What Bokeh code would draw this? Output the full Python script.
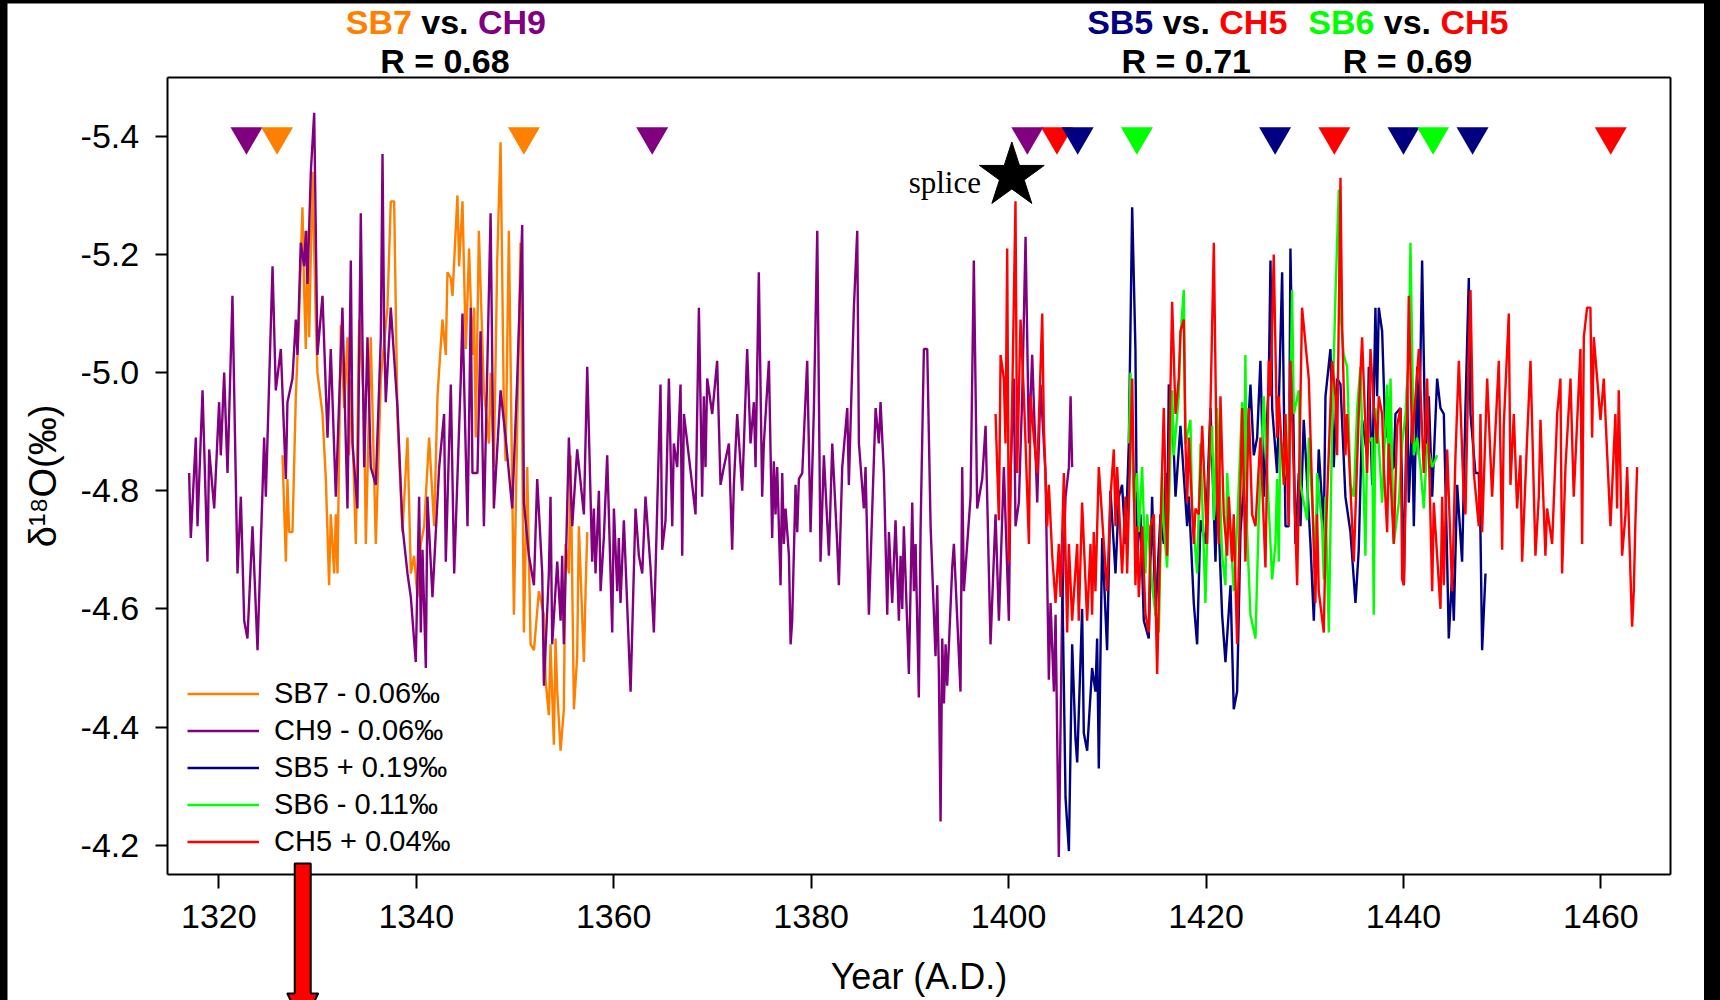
from bokeh.plotting import figure
from bokeh.models import Range1d, FixedTicker, NumeralTickFormatter, LinearAxis
from bokeh.embed import file_html
from bokeh.resources import INLINE
from bokeh.core.properties import value

# ---------------- data ----------------
ch9_year = [
    1316.99, 1317.16, 1317.67, 1317.84, 1318.35, 1318.85, 1319.02, 1319.53, 1320.03, 1320.20,
    1320.54, 1320.88, 1321.38, 1321.89, 1322.23, 1322.57, 1322.90, 1323.41, 1323.92, 1324.59,
    1324.76, 1325.44, 1325.77, 1326.28, 1326.79, 1326.95, 1327.46, 1327.80, 1327.97, 1328.30,
    1328.64, 1328.81, 1328.98, 1329.32, 1329.66, 1329.99, 1330.50, 1331.01, 1331.34, 1331.85,
    1332.52, 1333.03, 1333.37, 1333.54, 1334.04, 1334.38, 1334.72, 1335.06, 1335.39, 1335.90,
    1336.41, 1336.58, 1336.74, 1336.91, 1337.42, 1338.10, 1338.60, 1339.11, 1339.45, 1339.95,
    1340.29, 1340.46, 1340.63, 1340.97, 1341.13, 1341.64, 1342.32, 1342.82, 1342.99, 1343.50,
    1343.84, 1344.51, 1344.68, 1345.19, 1345.52, 1345.69, 1346.20,
    1346.51, 1346.85, 1347.53, 1347.86, 1348.54, 1349.05, 1349.72, 1350.23, 1350.73, 1350.90,
    1351.41, 1351.92, 1352.25, 1352.76, 1352.93, 1353.43, 1353.60, 1353.77, 1354.28, 1354.62,
    1354.78, 1354.95, 1355.46, 1355.80, 1356.30, 1356.98, 1357.32, 1357.82, 1357.99, 1358.16,
    1358.50, 1358.67, 1359.00, 1359.34, 1359.85, 1360.02, 1360.36, 1360.52, 1360.69, 1361.03,
    1361.71, 1362.21, 1362.55, 1362.89, 1363.22, 1363.73, 1364.07, 1364.74, 1364.91, 1365.25,
    1365.59, 1365.93, 1366.09, 1366.43, 1366.77, 1366.94, 1367.11, 1367.95, 1368.29, 1368.63,
    1368.96, 1369.13, 1369.30, 1369.47, 1369.98, 1370.48, 1370.82, 1371.16, 1371.67, 1372.00,
    1372.17, 1372.51, 1373.02, 1373.52, 1373.86, 1374.20, 1374.37, 1374.70, 1375.04, 1375.21,
    1375.72, 1376.05, 1376.22, 1376.39, 1376.56, 1376.90,
    1377.07, 1377.24, 1377.41, 1377.75, 1377.92, 1378.08, 1378.42, 1378.59, 1378.76, 1379.10,
    1379.60, 1379.94, 1380.28, 1380.62, 1380.95, 1381.29, 1381.80, 1382.14, 1382.64, 1382.81,
    1383.15, 1383.66, 1383.82, 1383.99, 1384.33, 1384.67, 1384.84, 1385.34, 1385.51, 1385.85,
    1386.19, 1386.53, 1386.86, 1387.03, 1387.37, 1387.71, 1387.88, 1388.21, 1388.55, 1388.89,
    1389.06, 1389.23, 1389.39, 1389.90, 1390.24, 1390.41, 1390.58, 1390.91, 1391.08, 1391.42,
    1391.76, 1392.10, 1392.60, 1392.77, 1392.94, 1393.11, 1393.28, 1393.45, 1393.62, 1393.78,
    1394.29, 1394.46, 1395.13, 1395.30, 1395.47, 1395.81, 1396.15, 1396.48, 1396.82, 1397.33,
    1397.67, 1398.17, 1398.68, 1399.02, 1399.52, 1400.03, 1400.20, 1400.54, 1400.70, 1401.04,
    1401.38, 1401.72, 1402.06, 1402.39, 1402.90, 1403.24, 1403.74, 1404.08, 1404.25, 1404.59,
    1404.76, 1405.09, 1405.43, 1405.77, 1406.11, 1406.28, 1406.44,
]
ch9_d18o = [
    -4.83, -4.72, -4.89, -4.74, -4.97, -4.68, -4.87, -4.77, -4.95, -4.86,
    -5.00, -4.83, -5.13, -4.66, -4.79, -4.58, -4.55, -4.74, -4.53, -4.89,
    -4.79, -5.18, -4.97, -5.04, -4.82, -4.95, -4.99, -5.09, -5.03, -5.22,
    -5.18, -5.24, -5.15, -5.34, -5.44, -5.03, -5.13, -4.89, -5.04, -4.79,
    -5.11, -4.77, -5.19, -4.88, -4.77, -5.27, -4.84, -5.06, -4.84, -4.81,
    -5.06, -5.37, -5.08, -4.95, -5.11, -4.94, -4.74, -4.66, -4.62, -4.51,
    -4.79, -4.56, -4.70, -4.50, -4.79, -4.62, -4.84, -4.93, -4.68, -4.98,
    -4.66, -4.99, -5.10, -4.74, -5.11, -4.83, -4.83,
    -5.07, -4.74, -5.27, -4.77, -4.97, -4.89, -4.77, -4.99, -5.25, -4.78,
    -4.69, -4.64, -4.82, -4.66, -4.47, -4.66, -4.79, -4.54, -4.68, -4.58,
    -4.69, -4.54, -4.89, -4.74, -4.87, -4.76, -5.01, -4.68, -4.77, -4.66,
    -4.80, -4.63, -4.72, -4.86, -4.56, -4.77, -4.63, -4.72, -4.61, -4.75,
    -4.46, -4.77, -4.69, -4.66, -4.79, -4.67, -4.56, -4.98, -4.70, -4.75,
    -4.99, -4.74, -4.88, -4.84, -4.98, -4.69, -4.93, -4.81, -4.76, -5.11,
    -4.79, -4.96, -4.84, -4.99, -4.93, -5.02, -4.81, -4.84, -4.88, -4.70,
    -4.81, -4.93, -4.80, -5.04, -4.88, -4.95, -4.84, -5.17, -4.79, -4.88,
    -5.02, -4.72, -4.85, -4.76, -4.84, -4.64,
    -4.83, -4.71, -4.77, -4.69, -4.54, -4.58, -4.81, -4.73, -4.82, -4.83,
    -5.02, -4.73, -4.94, -5.24, -4.68, -4.86, -4.69, -4.88, -4.71, -4.64,
    -4.84, -4.94, -4.81, -4.91, -5.11, -5.24, -4.88, -4.77, -4.84, -4.59,
    -4.77, -4.94, -4.88, -4.95, -4.83, -4.59, -4.73, -4.61, -4.75, -4.58,
    -4.69, -4.60, -4.74, -4.49, -4.78, -4.63, -4.71, -4.45, -4.73, -5.04,
    -5.04, -4.74, -4.52, -4.64, -4.49, -4.24, -4.55, -4.44, -4.54, -4.47,
    -4.67, -4.71, -4.46, -4.84, -4.63, -4.71, -4.79, -5.19, -4.77, -4.82,
    -4.91, -4.54, -4.76, -4.58, -4.84, -4.58, -4.83, -4.99, -4.74, -4.78,
    -4.96, -5.23, -4.88, -5.03, -4.78, -4.98, -4.83, -4.48, -4.61, -4.46,
    -4.59, -4.18, -4.61, -4.79, -4.84, -4.96, -4.84,
]

sb7_year = [
    1326.45, 1326.79, 1326.95, 1327.12, 1327.46, 1327.80, 1328.14, 1328.47, 1328.64, 1328.81,
    1328.98, 1329.15, 1329.49, 1329.82, 1329.99, 1330.50, 1330.84, 1331.17, 1331.34, 1331.68,
    1331.85, 1332.02, 1332.36, 1332.69, 1333.03, 1333.20, 1333.37, 1333.88, 1334.21, 1334.72,
    1334.89, 1335.39, 1335.90, 1336.41, 1337.08, 1337.42, 1337.76, 1338.10, 1338.60, 1339.11,
    1339.45, 1339.78, 1340.12, 1340.46, 1340.80, 1341.30, 1341.81, 1342.15, 1342.65, 1342.99,
    1343.16, 1343.50, 1343.67, 1344.17, 1344.34, 1344.68, 1345.02, 1345.35, 1345.69, 1345.86,
    1346.03,
    1346.34, 1346.85, 1347.36, 1347.53, 1347.86, 1348.20, 1348.54, 1348.88, 1349.05, 1349.38,
    1349.89, 1350.23, 1350.56, 1350.90, 1351.24, 1351.58, 1351.92, 1352.42, 1352.93, 1353.10,
    1353.43, 1353.60, 1353.94, 1354.11, 1354.28, 1354.62, 1354.95, 1355.12, 1355.46, 1355.63,
    1355.97, 1356.30, 1356.47, 1356.98, 1357.15, 1357.32,
]
sb7_d18o = [
    -4.86, -4.68, -4.82, -4.73, -4.73, -4.96, -5.10, -5.28, -5.14, -5.04,
    -5.24, -5.06, -5.34, -5.09, -5.00, -4.93, -4.82, -4.64, -4.76, -4.66,
    -4.76, -4.66, -5.08, -4.94, -5.06, -4.86, -4.99, -4.71, -5.09, -4.94,
    -4.71, -5.06, -4.71, -4.99, -5.11, -5.29, -5.29, -4.92, -4.73, -4.89,
    -4.66, -4.69, -4.62, -4.71, -4.74, -4.89, -4.74, -4.96, -5.09, -5.03,
    -5.17, -5.16, -5.13, -5.30, -5.18, -5.29, -5.04, -5.21, -5.03, -5.11,
    -4.89,
    -5.24, -4.97, -4.88, -5.00, -4.84, -5.19, -5.39, -4.93, -4.85, -5.24,
    -4.59, -4.91, -5.22, -4.56, -4.84, -4.54, -4.53, -4.63, -4.59, -4.48,
    -4.42, -4.54, -4.37, -4.55, -4.46, -4.36, -4.43, -4.71, -4.66, -4.86,
    -4.43, -4.52, -4.74, -4.51, -4.63, -4.73,
]

sb5_year = [
    1405.43, 1405.77, 1406.11,
    1406.44, 1406.78, 1406.95, 1407.28, 1407.45, 1407.62, 1407.96, 1408.46, 1408.80, 1408.97,
    1409.14, 1409.48, 1409.98, 1410.32, 1410.83, 1411.17, 1411.50, 1411.84, 1412.18, 1412.52,
    1412.85, 1413.02, 1413.36, 1413.70, 1414.20, 1414.54, 1414.88, 1415.39, 1415.72, 1415.89,
    1416.06, 1416.23, 1416.57, 1416.91, 1417.41, 1418.09, 1418.26, 1418.76, 1419.10, 1419.44,
    1419.94, 1420.45, 1420.96, 1421.13, 1421.63, 1421.97, 1422.48, 1422.81, 1423.15, 1423.49,
    1423.83, 1424.16, 1424.50, 1424.84, 1425.18, 1425.51, 1425.85, 1426.36, 1426.53, 1426.70,
    1427.20, 1427.71, 1428.05, 1428.38, 1428.55, 1429.06, 1429.40, 1429.57, 1429.90, 1430.58,
    1430.92, 1431.42, 1431.93, 1432.10, 1432.60, 1432.94, 1433.28, 1433.62, 1434.12, 1434.63,
    1435.14, 1435.47, 1435.81, 1436.32, 1436.49, 1436.83, 1437.16, 1437.33, 1437.50,
    1437.84, 1438.18, 1438.35, 1438.52, 1439.02, 1439.19, 1439.70, 1439.87, 1440.04, 1440.37,
    1440.54, 1440.88, 1441.05, 1441.39, 1441.56, 1441.89, 1442.23, 1442.57, 1442.91, 1443.41,
    1443.75, 1444.09, 1444.43, 1444.59, 1444.93, 1445.10, 1445.44, 1445.94, 1446.28, 1446.62,
    1446.79, 1447.29, 1447.63, 1447.80, 1447.97, 1448.31,
]
sb5_d18o = [
    -4.66, -4.28, -4.19,
    -4.54, -4.38, -4.34, -4.51, -4.60, -4.39, -4.36, -4.50, -4.46, -4.55,
    -4.33, -4.72, -4.53, -4.80, -4.66, -4.79, -4.81, -4.71, -4.88, -5.28,
    -5.04, -4.69, -4.76, -4.58, -4.55, -4.79, -4.59, -4.76, -4.71, -4.83,
    -4.71, -4.98, -4.94, -4.79, -4.91, -4.74, -4.79, -4.61, -4.54, -4.75,
    -4.71, -4.94, -4.68, -4.81, -4.59, -4.51, -4.64, -4.43, -4.46, -4.73,
    -4.81, -4.88, -4.98, -4.86, -4.89, -5.02, -4.79, -4.99, -5.19, -4.94,
    -4.83, -5.17, -4.74, -4.74, -5.21, -4.71, -4.83, -4.74, -4.92, -4.71,
    -4.58, -4.87, -4.73, -4.96, -5.04, -4.84, -4.99, -4.98, -4.79, -4.73,
    -4.61, -4.70, -4.92, -4.86, -5.01, -4.81, -5.11, -4.96, -5.11,
    -5.07, -4.89, -4.96, -4.83, -4.84, -4.93, -4.94, -4.79, -4.64, -4.98,
    -4.78, -4.92, -4.74, -5.01, -4.86, -5.19, -4.86, -4.96, -4.79, -4.99,
    -4.94, -4.93, -4.68, -4.55, -4.66, -4.58, -4.81, -4.68, -4.94, -5.16,
    -4.93, -4.83, -4.83, -4.73, -4.53, -4.66,
]

sb6_year = [
    1412.18, 1412.35, 1412.69, 1413.02, 1413.19, 1413.53, 1413.87, 1414.04, 1414.54, 1414.88,
    1415.22, 1415.55, 1415.72, 1416.06, 1416.57, 1416.74, 1417.24, 1417.41, 1417.75, 1417.92,
    1418.42, 1418.59, 1419.10, 1419.44, 1419.94, 1420.28, 1420.62, 1420.79, 1421.13, 1421.63,
    1421.97, 1422.14, 1422.81, 1423.15, 1423.66, 1423.83, 1423.99, 1424.16, 1424.50, 1425.01,
    1425.35, 1425.85, 1426.19, 1426.70, 1427.03, 1427.20, 1427.37, 1427.54, 1428.22, 1428.55,
    1428.72, 1428.89, 1429.40, 1429.57, 1430.24, 1430.41, 1430.92, 1431.08, 1431.25, 1431.76,
    1431.93, 1432.10, 1432.44, 1432.77, 1433.11, 1433.45, 1433.62, 1433.95, 1434.29, 1434.63,
    1434.97, 1435.31, 1435.64, 1436.15, 1436.32, 1436.83, 1436.99, 1437.16, 1437.50,
    1437.84, 1438.35, 1438.52, 1438.69, 1439.02, 1439.53, 1439.87, 1440.21, 1440.54, 1440.71,
    1441.05, 1441.39, 1441.72, 1442.06, 1442.40, 1442.91, 1443.41,
]
sb6_d18o = [
    -4.88, -5.00, -4.78, -4.83, -4.73, -4.84, -4.66, -4.76, -4.64, -4.59,
    -4.56, -4.83, -4.74, -4.67, -4.97, -4.86, -4.96, -5.06, -5.14, -4.88,
    -4.92, -4.77, -4.66, -4.88, -4.61, -4.83, -4.91, -4.75, -4.94, -4.69,
    -4.64, -4.83, -4.63, -4.74, -4.95, -4.79, -5.03, -4.73, -4.59, -4.55,
    -4.76, -4.96, -4.83, -4.65, -4.71, -4.82, -4.68, -4.89, -4.82, -4.97,
    -5.14, -4.93, -4.97, -4.81, -4.75, -4.89, -4.73, -4.64, -4.83, -4.74,
    -4.65, -4.79, -4.56, -4.91, -5.13, -5.31, -5.10, -5.03, -5.01, -4.81,
    -4.79, -4.94, -5.01, -4.69, -4.88, -4.89, -4.59, -4.94, -4.88,
    -4.78, -4.98, -4.81, -4.99, -4.71, -4.78, -4.88, -4.93, -5.03, -5.22,
    -4.86, -4.89, -4.84, -4.77, -4.88, -4.84, -4.86,
]

ch5_year = [
    1398.68, 1399.02, 1399.19, 1399.52, 1399.69, 1399.86, 1400.03, 1400.37, 1400.70, 1400.87,
    1401.21, 1401.55, 1401.72, 1402.06, 1402.22, 1402.56, 1402.90, 1403.41, 1403.57, 1403.91,
    1404.08, 1404.42, 1404.76, 1405.09, 1405.26, 1405.60, 1405.94, 1406.11,
    1406.44, 1406.95, 1407.11, 1407.45, 1407.96, 1408.30, 1408.46, 1408.63, 1408.80, 1409.14,
    1409.65, 1409.98, 1410.32, 1410.66, 1410.83, 1411.00, 1411.50, 1411.84, 1412.01, 1412.52,
    1412.85, 1413.02, 1413.19, 1413.53, 1413.87, 1414.20, 1414.37, 1414.71, 1415.05, 1415.39,
    1415.72, 1416.06, 1416.57, 1416.91, 1417.24, 1417.41, 1417.75, 1417.92, 1418.09, 1418.26,
    1418.76, 1418.93, 1419.27, 1419.61, 1420.11, 1420.45, 1420.79, 1421.13, 1421.29, 1421.46,
    1421.80, 1422.14, 1422.31, 1422.64, 1422.81, 1423.15, 1423.66, 1423.99, 1424.33, 1424.67,
    1425.01, 1425.51, 1426.02, 1426.36, 1426.53, 1426.86, 1427.20, 1427.37, 1427.88, 1428.05,
    1428.38, 1428.55, 1429.23, 1429.73, 1430.41, 1431.08, 1431.25, 1431.42, 1431.93, 1432.10,
    1432.77, 1433.11, 1433.28, 1433.62, 1433.79, 1434.12, 1434.29, 1434.97, 1435.47, 1435.81,
    1436.32, 1436.66, 1436.99, 1437.33, 1437.50,
    1437.84, 1438.01, 1438.35, 1438.52, 1439.02, 1439.36, 1439.70, 1439.87, 1440.04, 1440.37,
    1440.54, 1440.88, 1441.56, 1442.06, 1442.40, 1442.91, 1443.07, 1443.75, 1443.92, 1444.09,
    1444.43, 1444.93, 1445.27, 1445.61, 1446.11, 1446.28, 1446.62, 1446.79, 1447.13, 1447.63,
    1447.80, 1447.97, 1448.48, 1448.98, 1449.66, 1450.00, 1450.16, 1450.67, 1450.84, 1451.18,
    1451.51, 1451.85, 1452.02, 1452.53, 1452.87, 1453.37, 1453.71, 1453.88, 1454.38, 1454.55,
    1455.06, 1455.57, 1455.90, 1456.07, 1456.41, 1456.92, 1457.25, 1457.93, 1458.10, 1458.27,
    1458.60, 1458.94, 1459.11, 1459.28, 1459.96, 1460.29, 1460.97, 1461.47, 1461.64, 1461.81,
    1462.15, 1462.49, 1462.66, 1463.16, 1463.33, 1463.50, 1463.67,
]
ch5_d18o = [
    -4.93, -4.75, -5.03, -4.99, -4.88, -5.21, -4.68, -4.96, -5.29, -4.83,
    -5.09, -4.96, -4.88, -4.71, -4.96, -4.89, -4.83, -5.10, -4.91, -4.74,
    -4.81, -4.69, -4.61, -4.71, -4.62, -4.83, -4.56, -4.71,
    -4.58, -4.71, -4.58, -4.78, -4.58, -4.71, -4.59, -4.73, -4.63, -4.84,
    -4.71, -4.63, -4.79, -4.87, -4.74, -4.84, -4.66, -4.79, -4.66, -4.99,
    -4.64, -4.74, -4.62, -4.74, -4.59, -4.56, -4.74, -4.76, -4.49, -4.74,
    -4.94, -4.69, -5.12, -4.93, -4.99, -5.07, -5.09, -4.88, -4.78, -4.89,
    -4.71, -4.77, -4.76, -4.91, -4.71, -4.94, -5.22, -4.78, -4.71, -4.96,
    -4.76, -4.69, -4.79, -4.68, -4.76, -4.54, -4.94, -4.68, -4.94, -4.76,
    -4.74, -4.89, -4.67, -5.02, -4.96, -5.20, -4.89, -4.96, -4.81, -4.93,
    -4.74, -5.02, -4.64, -5.11, -4.99, -4.61, -4.76, -4.63, -4.56, -4.71,
    -5.02, -4.96, -4.86, -5.33, -5.08, -4.86, -4.93, -4.68, -4.93, -5.06,
    -4.83, -5.04, -4.94, -4.88, -4.96,
    -4.93, -4.84, -4.73, -4.88, -4.71, -4.91, -4.94, -4.65, -4.64, -4.93,
    -5.13, -4.88, -5.04, -4.83, -4.99, -4.63, -4.78, -4.60, -4.79, -4.64,
    -4.87, -4.63, -4.86, -5.02, -4.79, -4.76, -5.04, -5.14, -4.83, -4.74,
    -4.93, -4.73, -4.99, -4.79, -5.02, -4.70, -4.91, -5.10, -4.81, -4.93,
    -4.77, -4.86, -4.68, -4.89, -5.02, -4.69, -4.79, -4.92, -4.69, -4.77,
    -4.71, -4.93, -4.99, -4.66, -4.84, -4.99, -4.79, -5.04, -4.71, -5.06,
    -5.11, -5.11, -4.89, -5.06, -4.92, -4.99, -4.74, -4.93, -4.77, -4.97,
    -4.69, -4.76, -4.84, -4.57, -4.63, -4.75, -4.84,
]

# dating tie points (inverted triangles), years
tie_ch9 = [1322.8, 1363.9, 1401.9]
tie_sb7 = [1325.9, 1350.9]
tie_ch5 = [1404.9, 1433.0, 1461.0]
tie_sb5 = [1407.0, 1427.0, 1440.0, 1447.0]
tie_sb6 = [1413.0, 1443.0]
tie_level = -5.4

splice_year, splice_d18o = 1400.33, -5.333
splice_text_year, splice_text_d18o = 1397.2, -5.322

# correlation headers
pair_x = [1342.9, 1418.0, 1440.4]
pair_a = ["SB7", "SB5", "SB6"]
pair_b = ["CH9", "CH5", "CH5"]
pair_r = ["R = 0.68", "R = 0.71", "R = 0.69"]
header_row1, header_row2 = -5.593, -5.527

arrow_year = 1328.5
arrow_top, arrow_head, arrow_tip = -4.169, -3.949, -3.895
arrow_shaft_half, arrow_head_half = 0.81, 1.57

labels = {"SB7": "SB7 - 0.06\u2030", "CH9": "CH9 - 0.06\u2030", "SB5": "SB5 + 0.19\u2030",
          "SB6": "SB6 - 0.11\u2030", "CH5": "CH5 + 0.04\u2030"}
colors = {"SB7": "#FF8000", "CH9": "#800080", "SB5": "#000080", "SB6": "#00FF00", "CH5": "#FF0000"}

FONT = "Liberation Sans"

# ---------------- geometry ----------------
# plotting box (axes) limits
X0, X1 = 1314.77, 1467.0
Y_BOTTOM, Y_TOP = -4.15, -5.50
# canvas and where the box sits inside it (px)
W, H = 1697, 997
BOX_L, BOX_R, BOX_T, BOX_B = 159.7, 1662.5, 73.8, 871.2
ypp = (X1 - X0) / (BOX_R - BOX_L)
vpp = (Y_BOTTOM - Y_TOP) / (BOX_B - BOX_T)
XR = Range1d(X0 - BOX_L * ypp, X1 + (W - BOX_R) * ypp)
YR = Range1d(Y_BOTTOM + (H - BOX_B) * vpp, Y_TOP - BOX_T * vpp)

p = figure(width=W, height=H, x_range=XR, y_range=YR,
           output_backend="svg", toolbar_location=None,
           min_border_left=0, min_border_right=0, min_border_top=0, min_border_bottom=0)
p.margin = (3, 0, 0, 7)
p.background_fill_color = "white"
p.border_fill_color = "white"
p.outline_line_color = None
p.xgrid.visible = False
p.ygrid.visible = False

# ---------------- series ----------------
series = [("SB7", sb7_year, sb7_d18o), ("CH9", ch9_year, ch9_d18o),
          ("SB5", sb5_year, sb5_d18o), ("SB6", sb6_year, sb6_d18o),
          ("CH5", ch5_year, ch5_d18o)]
for key, xs, ys in series:
    n = min(len(xs), len(ys))
    p.line(xs[:n], ys[:n], line_color=colors[key], line_width=2.4, legend_label=labels[key])

for key, ties in [("CH9", tie_ch9), ("SB7", tie_sb7), ("CH5", tie_ch5),
                  ("SB5", tie_sb5), ("SB6", tie_sb6)]:
    p.scatter(ties, [tie_level] * len(ties), marker="inverted_triangle", size=32,
              fill_color=colors[key], line_color=None)

p.scatter([splice_year], [splice_d18o], marker="star", size=68,
          fill_color="black", line_color="black")
p.text(x=[splice_text_year], y=[splice_text_d18o], text=["splice"],
       text_font=value("Liberation Serif"), text_font_size="31px",
       text_align="right", text_baseline="alphabetic", text_color="black")

# ---------------- correlation captions above the box ----------------
hfont = dict(text_font=value(FONT), text_font_size="34px", text_font_style="bold",
             text_baseline="middle")
p.text(x=pair_x, y=[header_row1] * 3, text=["vs."] * 3, text_color="black",
       text_align="center", **hfont)
p.text(x=pair_x, y=[header_row1] * 3, text=pair_a, text_color=[colors[a] for a in pair_a],
       text_align="right", x_offset=-33, **hfont)
p.text(x=pair_x, y=[header_row1] * 3, text=pair_b, text_color=[colors[b] for b in pair_b],
       text_align="left", x_offset=33, **hfont)
p.text(x=pair_x, y=[header_row2] * 3, text=pair_r, text_color="black",
       text_align="center", **hfont)

# ---------------- axes, pinned to the box ----------------
p.xaxis.fixed_location = Y_BOTTOM
p.xaxis.bounds = (X0, X1)
p.yaxis.fixed_location = X0
p.yaxis.bounds = (Y_TOP, Y_BOTTOM)
p.xaxis.ticker = FixedTicker(ticks=[1320, 1340, 1360, 1380, 1400, 1420, 1440, 1460])
p.yaxis.ticker = FixedTicker(ticks=[-5.4, -5.2, -5.0, -4.8, -4.6, -4.4, -4.2])
p.yaxis.formatter = NumeralTickFormatter(format="0.0")
p.xaxis.minor_tick_line_color = None
p.yaxis.minor_tick_line_color = None
for ax_ in (p.xaxis[0], p.yaxis[0]):
    ax_.axis_line_color = "black"
    ax_.axis_line_width = 2
    ax_.major_tick_line_color = "black"
    ax_.major_tick_line_width = 2
    ax_.major_tick_in = 0
    ax_.major_label_text_font = FONT
    ax_.major_label_text_font_size = "34px"
    ax_.major_label_text_color = "black"
    ax_.axis_label_text_font = FONT
    ax_.axis_label_text_font_style = "normal"
    ax_.axis_label_text_color = "black"
p.xaxis.major_tick_out = 14
p.xaxis.major_label_standoff = 16
p.xaxis.axis_label = "Year (A.D.)"
p.xaxis.axis_label_text_font_size = "36px"
p.xaxis.axis_label_standoff = 25
p.yaxis.major_tick_out = 12
p.yaxis.major_label_standoff = 16
p.yaxis.axis_label = "\u03b4\u00b9\u2078O(\u2030)"
p.yaxis.axis_label_text_font_size = "38px"
p.yaxis.axis_label_standoff = 14

# box top and right edges
top_axis = LinearAxis(fixed_location=Y_TOP, bounds=(X0, X1), ticker=FixedTicker(ticks=[]),
                      axis_line_color="black", axis_line_width=2,
                      major_tick_line_color=None, minor_tick_line_color=None,
                      major_label_text_font_size="0px")
right_axis = LinearAxis(fixed_location=X1, bounds=(Y_TOP, Y_BOTTOM), ticker=FixedTicker(ticks=[]),
                        axis_line_color="black", axis_line_width=2,
                        major_tick_line_color=None, minor_tick_line_color=None,
                        major_label_text_font_size="0px")
p.add_layout(top_axis, "above")
p.add_layout(right_axis, "right")

# ---------------- red arrow (drawn over the x axis) ----------------
ax = arrow_year
arrow = p.patch([ax - arrow_shaft_half, ax + arrow_shaft_half, ax + arrow_shaft_half,
                 ax + arrow_head_half, ax, ax - arrow_head_half, ax - arrow_shaft_half],
                [arrow_top, arrow_top, arrow_head, arrow_head, arrow_tip, arrow_head, arrow_head],
                fill_color="#FF0000", line_color="black", line_width=2)
arrow.level = "overlay"

# ---------------- legend ----------------
lg = p.legend[0]
lg.location = (int(round(BOX_L + 20)), int(round(H - BOX_B + 14)))
lg.padding = 0
lg.margin = 0
lg.spacing = 0
lg.border_line_color = None
lg.background_fill_alpha = 0
lg.glyph_width = 72
lg.glyph_height = 37
lg.label_height = 37
lg.label_standoff = 15
lg.label_text_font = FONT
lg.label_text_font_size = "29px"
lg.label_text_color = "black"

html = file_html(p, INLINE, title="plot")
html = html.replace("</head>", "<style>html,body{margin:0;padding:0;background:#000;}</style></head>", 1)
open("out.html", "w").write(html)
